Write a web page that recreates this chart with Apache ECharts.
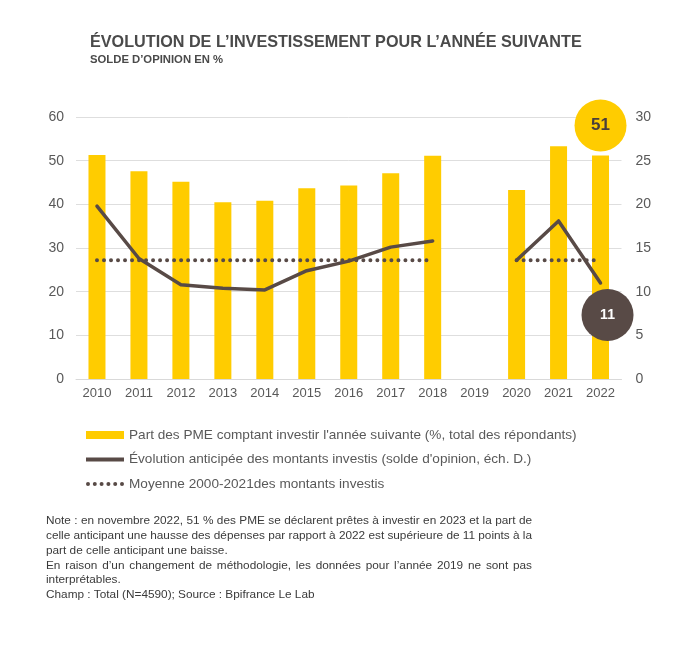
<!DOCTYPE html>
<html>
<head>
<meta charset="utf-8">
<script src="https://cdn.jsdelivr.net/npm/echarts@6/dist/echarts.min.js"></script>
<style>
html,body{margin:0;padding:0;background:#fff;}
#chart{width:682px;height:651px;}
</style>
</head>
<body>
<div id="chart"></div>
<script>
var categories = ['2010','2011','2012','2013','2014','2015','2016','2017','2018','2019','2020','2021','2022'];
var barValues = [51.3, 47.6, 45.2, 40.5, 40.8, 43.7, 44.3, 47.1, 51.1, null, 43.3, 53.3, 51.2];
var lineValues = [19.8, 13.8, 10.8, 10.4, 10.2, 12.4, 13.5, 15.1, 15.8, null, 13.6, 18.1, 11.0];
var avgValues = [13.6, 13.6, 13.6, 13.6, 13.6, 13.6, 13.6, 13.6, 13.6, null, 13.6, 13.6, 13.6];
var leftTicks = [0, 10, 20, 30, 40, 50, 60];
var rightTicks = [0, 5, 10, 15, 20, 25, 30];
var seriesNames = [
  "Part des PME comptant investir l'année suivante (%, total des répondants)",
  "Évolution anticipée des montants investis (solde d'opinion, éch. D.)",
  "Moyenne 2000-2021des montants investis"
];
var labelBar = 51;
var labelLine = 11;
var noteLines = [
  "Note : en novembre 2022, 51 % des PME se déclarent prêtes à investir en 2023 et la part de",
  "celle anticipant une hausse des dépenses par rapport à 2022 est supérieure de 11 points à la",
  "part de celle anticipant une baisse.",
  "En raison d’un changement de méthodologie, les données pour l’année 2019 ne sont pas",
  "interprétables.",
  "Champ : Total (N=4590); Source : Bpifrance Le Lab"
];
var noteJustify = [true, true, false, true, false, false];

var FONT = '"Liberation Sans", Arial, sans-serif';
var chart = echarts.init(document.getElementById('chart'), null, {renderer: 'canvas'});
var last = categories.length - 1;

// legend icon paths
var solidIcon = 'path://M0,0 H38 V4 H0 Z';
var dotParts = [];
for (var i = 0; i < 6; i++) {
  var cx = 2 + i * 6.8;
  dotParts.push('M' + (cx - 2) + ',2 A2,2 0 1,1 ' + (cx + 2) + ',2 A2,2 0 1,1 ' + (cx - 2) + ',2 Z');
}
var dotIcon = 'path://' + dotParts.join(' ');

// note text, justified like the source
var noteFont = '11.8px ' + FONT;
var noteX = 46, noteTop = 515, noteLH = 14.8, noteW = 486;
var mctx = document.createElement('canvas').getContext('2d');
mctx.font = noteFont;
var noteGraphics = [];
noteLines.forEach(function (line, li) {
  var y = noteTop + li * noteLH;
  if (!noteJustify[li]) {
    noteGraphics.push({type: 'text', x: noteX, y: y, style: {text: line, font: noteFont, fill: '#3a3a3a', textVerticalAlign: 'top'}});
    return;
  }
  var words = line.split(' ');
  var total = 0;
  words.forEach(function (w) { total += mctx.measureText(w).width; });
  var gap = (noteW - total) / (words.length - 1);
  var x = noteX;
  words.forEach(function (w) {
    noteGraphics.push({type: 'text', x: x, y: y, style: {text: w, font: noteFont, fill: '#3a3a3a', textVerticalAlign: 'top'}});
    x += mctx.measureText(w).width + gap;
  });
});

var option = {
  animation: false,
  backgroundColor: '#ffffff',
  textStyle: {fontFamily: FONT},
  grid: {left: 76, right: 60.5, top: 117, bottom: 272, containLabel: false},
  legend: {
    orient: 'vertical', left: 86, top: 427, padding: 0,
    itemWidth: 38, itemHeight: 8, itemGap: 8.5,
    textStyle: {fontFamily: FONT, fontSize: 13.6, color: '#595959', lineHeight: 16},
    data: [
      {name: seriesNames[0], icon: 'rect'},
      {name: seriesNames[1], icon: solidIcon},
      {name: seriesNames[2], icon: dotIcon}
    ]
  },
  xAxis: {
    type: 'category', data: categories,
    axisLine: {show: true, lineStyle: {color: '#d9d9d9', width: 1}},
    axisTick: {show: false},
    axisLabel: {color: '#595959', fontSize: 13, margin: 8, fontFamily: FONT, interval: 0}
  },
  yAxis: [
    {type: 'value', min: leftTicks[0], max: leftTicks[leftTicks.length-1], interval: 10,
     axisLine: {show: false}, axisTick: {show: false},
     splitLine: {lineStyle: {color: '#dedede', width: 1}},
     axisLabel: {color: '#595959', fontSize: 14, margin: 12, fontFamily: FONT}},
    {type: 'value', min: rightTicks[0], max: rightTicks[rightTicks.length-1], interval: 5,
     axisLine: {show: false}, axisTick: {show: false},
     splitLine: {show: false},
     axisLabel: {color: '#595959', fontSize: 14, margin: 14, fontFamily: FONT}}
  ],
  series: [
    {
      name: seriesNames[0], type: 'bar', data: barValues, barWidth: 17,
      itemStyle: {color: '#FFCC00'},
      z: 2,
      markPoint: {
        symbol: 'circle', symbolSize: 52, symbolOffset: [0, -30],
        itemStyle: {color: '#FFCC00'},
        label: {show: true, color: '#4a3f3b', fontSize: 17, fontWeight: 'bold', fontFamily: FONT,
                formatter: function(){ return String(labelBar); }},
        data: [{coord: [categories[last], barValues[last]]}]
      }
    },
    {
      name: seriesNames[1], type: 'line', yAxisIndex: 1, data: lineValues,
      smooth: false, connectNulls: false, symbol: 'none',
      lineStyle: {color: '#584a46', width: 3.5, join: 'round', cap: 'round'},
      itemStyle: {color: '#584a46'},
      z: 4,
      markPoint: {
        symbol: 'circle', symbolSize: 52, symbolOffset: [7, 32],
        itemStyle: {color: '#584a46'},
        label: {show: true, color: '#ffffff', fontSize: 14, fontWeight: 'bold', fontFamily: FONT,
                formatter: function(){ return String(labelLine); }},
        data: [{coord: [categories[last], lineValues[last]]}]
      }
    },
    {
      name: seriesNames[2], type: 'line', yAxisIndex: 1, data: avgValues,
      connectNulls: false, symbol: 'none',
      lineStyle: {color: '#584a46', width: 4, type: [0.01, 7], cap: 'round'},
      itemStyle: {color: '#584a46'},
      z: 3
    }
  ],
  graphic: [
    {type: 'text', left: 90, top: 35,
     style: {text: "ÉVOLUTION DE L’INVESTISSEMENT POUR L’ANNÉE SUIVANTE", font: 'bold 16.2px ' + FONT, fill: '#4a4a4a'}},
    {type: 'text', left: 90, top: 54,
     style: {text: "SOLDE D’OPINION EN %", font: 'bold 11.3px ' + FONT, fill: '#4a4a4a'}}
  ].concat(noteGraphics)
};
chart.setOption(option);
</script>
</body>
</html>
